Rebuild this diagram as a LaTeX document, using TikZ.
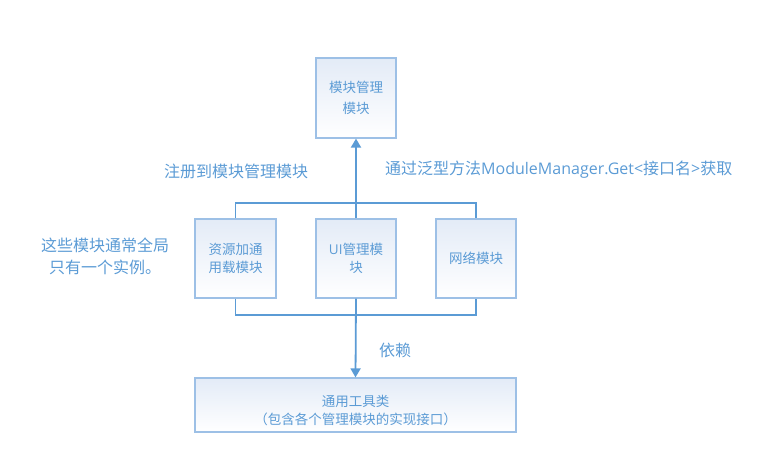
\documentclass[tikz,border=0pt]{standalone}
\usepackage{fontspec}
\setmainfont{Noto Sans CJK SC}
\newfontfamily\lat{Open Sans}
\usepackage{tikz}
\usetikzlibrary{arrows.meta, positioning}

\definecolor{linecol}{HTML}{5B9BD5}
\definecolor{boxcol}{HTML}{9DC0E6}
\definecolor{textcol}{HTML}{5B9BD5}
\definecolor{fillcol}{HTML}{E3EBF7}

\tikzset{
	modbox/.style={draw=boxcol, line width=1.2pt, top color=fillcol, bottom color=white,
		text=textcol, align=center, font=\fontsize{13.5}{18}\selectfont, inner sep=2pt},
	conn/.style={draw=linecol, line width=1.8pt},
	dep/.style={conn, -{Triangle[length=9pt,width=10pt]}},
	note/.style={text=textcol, font=\fontsize{16}{22}\selectfont, inner sep=0pt}
}

\begin{document}
\begin{tikzpicture}[x=1pt, y=-1pt]
	\useasboundingbox (0,0) rectangle (768,457);
	% modules
	\node (mgr) [modbox, minimum width=80pt, minimum height=80pt, font=\fontsize{13.5}{21}\selectfont] at (356,98) {模块管理\\模块};
	\node (res) [modbox, minimum width=81pt, minimum height=79pt] at (235.5,258.5) {资源加通\\用载模块};
	\node (ui) [modbox, minimum width=80pt, minimum height=79pt] at (356,258.5) {{\lat UI}管理模\\块};
	\node (net) [modbox, minimum width=80pt, minimum height=79pt] at (476,258.5) {网络模块};
	\node (util) [modbox, minimum width=321pt, minimum height=54pt] at (355.5,405) {};
	\node (utiltext) [text=textcol, align=center, font=\fontsize{13.5}{18}\selectfont, inner sep=0pt]
		at ([yshift=-5pt]util.center) {通用工具类\\（包含各个管理模块的实现接口）};

	% labels
	\node (reg) [note] at (236,171) {注册到模块管理模块};
	\node (get) [note, anchor=west] at (385,170) {通过泛型方法{\lat ModuleManager.Get<}接口名{\lat >}获取};
	\node (rely) [note] at (395,350) {依赖};
	\node (once) [note, align=center] at (105,256) {这些模块通常全局\\只有一个实例。};

	% connectors
	\draw[conn] (res.north) -- ++(0,-15) -| (net.north);
	\draw[conn] (res.south) -- ++(0,16) -| (net.south);
	\draw[dep] (ui.north) -- (mgr.south);
	\draw[dep] (ui.south) -- (util.north);
\end{tikzpicture}
\end{document}
